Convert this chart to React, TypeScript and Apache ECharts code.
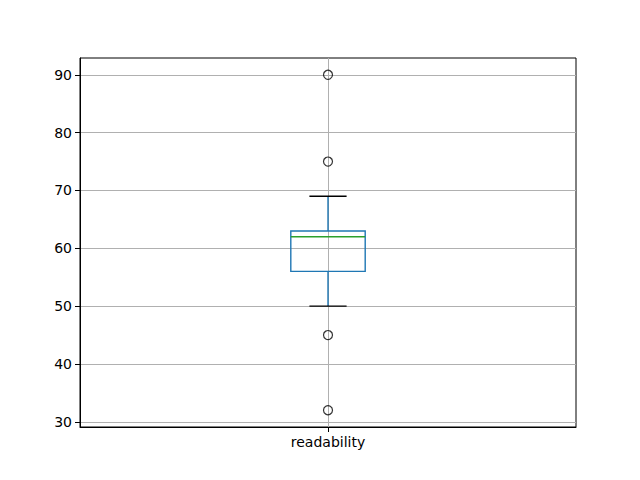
import React, { useEffect, useRef } from "react";
import * as echarts from "echarts";

const categories = ["readability"];
// [whiskerLow, q1, median, q3, whiskerHigh]
const boxValues = [[50, 56, 62, 63, 69]];
const outliers = [90, 75, 45, 32];
const yTicks = [30, 40, 50, 60, 70, 80, 90];

export default function App() {
  const ref = useRef<HTMLDivElement>(null);
  useEffect(() => {
    const chart = echarts.init(ref.current!, null, { renderer: "svg" });
    const font = "DejaVu Sans";
    const boxData = boxValues.map((v, i) => [i + 1, ...v]);
    const outlierData = outliers.map((v) => [1, v]);
    chart.setOption({
      animation: false,
      grid: {
        left: 80,
        right: 64,
        top: 58,
        bottom: 53,
        show: true,
        borderColor: "#000",
        borderWidth: 1,
        backgroundColor: "transparent",
      },
      xAxis: {
        type: "value",
        min: 0.5,
        max: 1.5,
        axisLine: { show: true, lineStyle: { color: "#000" } },
        axisTick: { show: true, customValues: [1], length: 5, lineStyle: { color: "#000" } },
        axisLabel: {
          customValues: [1],
          formatter: (v: number) => categories[Math.round(v) - 1] ?? "",
          color: "#000",
          fontFamily: font,
          fontSize: 14,
          margin: 8,
        },
        splitLine: { show: true, lineStyle: { color: "#b0b0b0", width: 1 } },
      },
      yAxis: {
        type: "value",
        min: 29.1,
        max: 92.9,
        axisLine: { show: true, lineStyle: { color: "#000" } },
        axisTick: { show: true, customValues: yTicks, length: 5, lineStyle: { color: "#000" } },
        axisLabel: {
          customValues: yTicks,
          color: "#000",
          fontFamily: font,
          fontSize: 14,
          margin: 8,
        },
        splitLine: { show: true, lineStyle: { color: "#b0b0b0", width: 1 } },
      },
      series: [
        {
          type: "custom",
          data: boxData,
          encode: { x: 0, y: [1, 2, 3, 4, 5] },
          renderItem: (params: any, api: any) => {
            const x = api.value(0);
            const lo = api.value(1);
            const q1 = api.value(2);
            const med = api.value(3);
            const q3 = api.value(4);
            const hi = api.value(5);
            const bw = 0.075;
            const cw = 0.0375;
            const pLo = api.coord([x, lo]);
            const pQ1 = api.coord([x, q1]);
            const pQ3 = api.coord([x, q3]);
            const pHi = api.coord([x, hi]);
            const l = api.coord([x - bw, med]);
            const r = api.coord([x + bw, med]);
            const cl = api.coord([x - cw, lo]);
            const cr = api.coord([x + cw, lo]);
            const blue = "#1f77b4";
            return {
              type: "group",
              children: [
                { type: "line", shape: { x1: pLo[0], y1: pLo[1], x2: pQ1[0], y2: pQ1[1] }, style: { stroke: blue, lineWidth: 1.4 } },
                { type: "line", shape: { x1: pQ3[0], y1: pQ3[1], x2: pHi[0], y2: pHi[1] }, style: { stroke: blue, lineWidth: 1.4 } },
                { type: "rect", shape: { x: l[0], y: pQ3[1], width: r[0] - l[0], height: pQ1[1] - pQ3[1] }, style: { stroke: blue, fill: "none", lineWidth: 1.4 } },
                { type: "line", shape: { x1: l[0], y1: l[1], x2: r[0], y2: r[1] }, style: { stroke: "#2ca02c", lineWidth: 1.4 } },
                { type: "line", shape: { x1: cl[0], y1: pLo[1], x2: cr[0], y2: pLo[1] }, style: { stroke: "#000", lineWidth: 1.4 } },
                { type: "line", shape: { x1: cl[0], y1: pHi[1], x2: cr[0], y2: pHi[1] }, style: { stroke: "#000", lineWidth: 1.4 } },
              ],
            };
          },
          z: 3,
        },
        {
          type: "scatter",
          data: outlierData,
          symbol: "circle",
          symbolSize: 9,
          itemStyle: { color: "rgba(0,0,0,0)", borderColor: "#000", borderWidth: 1.2 },
          z: 4,
        },
      ],
    });
    return () => chart.dispose();
  }, []);
  return <div ref={ref} style={{ width: 640, height: 480, position: "absolute", left: 0, top: 0 }} />;
}
